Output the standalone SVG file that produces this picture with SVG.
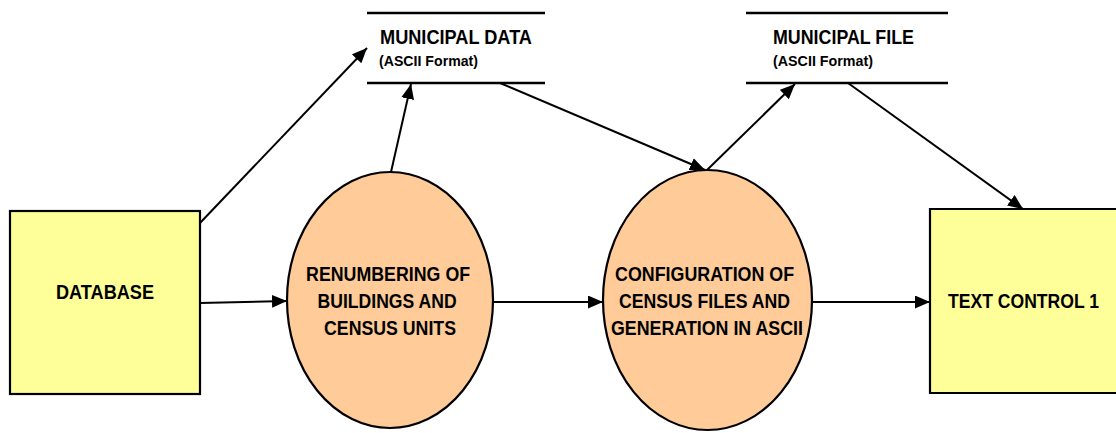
<svg xmlns="http://www.w3.org/2000/svg" width="1116" height="433" viewBox="0 0 1116 433">
  <style>
    .box { fill: #FFFF99; stroke: #000; stroke-width: 2.2; }
    .proc { fill: #FFCC99; stroke: #000; stroke-width: 2.2; }
    .store { stroke: #000; stroke-width: 2.4; fill: none; }
    .lbl { font-family: "Liberation Sans Narrow", "Liberation Sans", Arial, sans-serif; font-weight: bold; font-size: 21px; fill: #000; }
    .slbl { font-family: "Liberation Sans Narrow", "Liberation Sans", Arial, sans-serif; font-weight: bold; font-size: 20px; fill: #000; }
    .sub { font-family: "Liberation Sans Narrow", "Liberation Sans", Arial, sans-serif; font-weight: bold; font-size: 15px; fill: #000; }
    .flow { stroke: #000; stroke-width: 2; fill: none; marker-end: url(#arrow); }
  </style>
  <defs>
    <marker id="arrow" markerUnits="userSpaceOnUse" markerWidth="16" markerHeight="14" refX="15" refY="6.5" orient="auto">
      <path d="M0,0 L15,6.5 L0,13 z" fill="#000"/>
    </marker>
  </defs>

  <rect width="1116" height="433" fill="#fff"/>

  <!-- flows between entities, processes and stores -->
  <g id="connectors">
    <line class="flow" x1="200" y1="223" x2="367" y2="48"/>
    <line class="flow" x1="200" y1="303" x2="287" y2="301"/>
    <line class="flow" x1="391" y1="172" x2="411" y2="84"/>
    <line class="flow" x1="500" y1="83" x2="705" y2="170"/>
    <line class="flow" x1="707" y1="170" x2="795" y2="84"/>
    <line class="flow" x1="848" y1="83" x2="1023" y2="209"/>
    <line class="flow" x1="493" y1="302" x2="603" y2="302"/>
    <line class="flow" x1="812" y1="302" x2="930" y2="302"/>
  </g>

  <g id="database">
    <rect class="box" x="10" y="211" width="190" height="183"/>
    <text class="lbl" x="56" y="299" textLength="98" lengthAdjust="spacingAndGlyphs">DATABASE</text>
  </g>

  <g id="municipal-data">
    <line class="store" x1="367" y1="13" x2="545" y2="13"/>
    <line class="store" x1="367" y1="83" x2="545" y2="83"/>
    <text class="slbl" x="380" y="44" textLength="152" lengthAdjust="spacingAndGlyphs">MUNICIPAL DATA</text>
    <text class="sub" x="379" y="66" textLength="99" lengthAdjust="spacingAndGlyphs">(ASCII Format)</text>
  </g>

  <g id="municipal-file">
    <line class="store" x1="746" y1="13" x2="948" y2="13"/>
    <line class="store" x1="746" y1="83" x2="948" y2="83"/>
    <text class="slbl" x="773" y="44" textLength="141" lengthAdjust="spacingAndGlyphs">MUNICIPAL FILE</text>
    <text class="sub" x="773" y="66" textLength="100" lengthAdjust="spacingAndGlyphs">(ASCII Format)</text>
  </g>

  <g id="renumbering">
    <ellipse class="proc" cx="390" cy="300" rx="103" ry="128"/>
    <text class="lbl" text-anchor="middle">
      <tspan x="391" y="281" textLength="164" lengthAdjust="spacingAndGlyphs">RENUMBERING OF</tspan>
      <tspan x="390" y="308" textLength="139" lengthAdjust="spacingAndGlyphs">BUILDINGS AND</tspan>
      <tspan x="390" y="335" textLength="132" lengthAdjust="spacingAndGlyphs">CENSUS UNITS</tspan>
    </text>
  </g>

  <g id="configuration">
    <ellipse class="proc" cx="707.5" cy="300" rx="104.5" ry="130"/>
    <text class="lbl" text-anchor="middle">
      <tspan x="707.5" y="281" textLength="179" lengthAdjust="spacingAndGlyphs">CONFIGURATION OF</tspan>
      <tspan x="707.5" y="308" textLength="171" lengthAdjust="spacingAndGlyphs">CENSUS FILES AND</tspan>
      <tspan x="707" y="335" textLength="192" lengthAdjust="spacingAndGlyphs">GENERATION IN ASCII</tspan>
    </text>
  </g>

  <!-- the box runs on past the right edge, so only three sides are stroked -->
  <g id="text-control">
    <rect x="930" y="209" width="186" height="184" fill="#FFFF99"/>
    <path d="M1116,209 H930 V393 H1116" fill="none" stroke="#000" stroke-width="2.2"/>
    <text class="lbl" x="1023.5" y="308" text-anchor="middle" style="font-size:20px" textLength="151" lengthAdjust="spacingAndGlyphs">TEXT CONTROL 1</text>
  </g>
</svg>
